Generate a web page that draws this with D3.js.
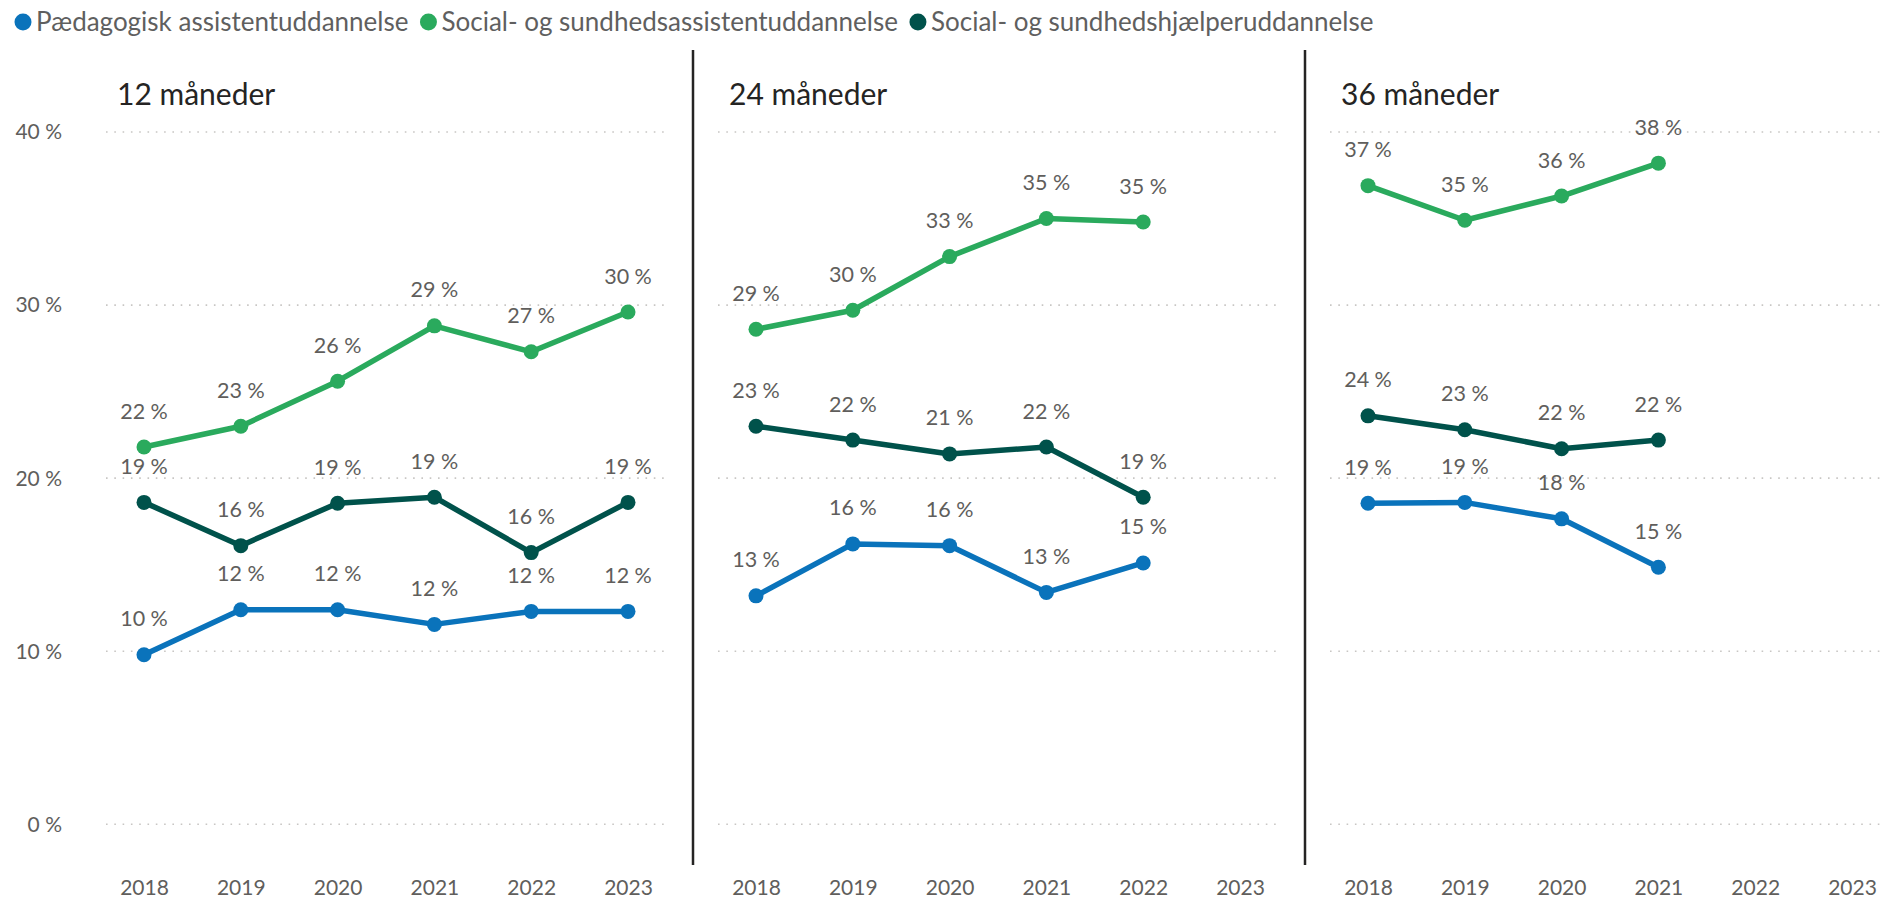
<!DOCTYPE html>
<html>
<head>
<meta charset="utf-8">
<script src="https://cdn.jsdelivr.net/npm/d3@7/dist/d3.min.js"></script>
<style>
  html, body { margin: 0; padding: 0; background: #fff; }
  svg { display: block; font-family: Lato, "Noto Sans", sans-serif; }
</style>
</head>
<body>
<svg id="chart" width="1880" height="899"></svg>
<script>
// Andel i beskæftigelse efter 12, 24 og 36 måneder, fordelt på uddannelse
const years = ["2018", "2019", "2020", "2021", "2022", "2023"];
const panelTitles = ["12 måneder", "24 måneder", "36 måneder"];
const seriesNames = [
  "Pædagogisk assistentuddannelse",
  "Social- og sundhedsassistentuddannelse",
  "Social- og sundhedshjælperuddannelse"
];
const seriesColors = ["#0A73BB", "#2AAA5D", "#00524B"];

// values per panel (12 / 24 / 36 måneder), in percent
const paedagogisk = [
  [9.8, 12.4, 12.4, 11.55, 12.3, 12.3],
  [13.2, 16.2, 16.1, 13.4, 15.1],
  [18.55, 18.6, 17.65, 14.85]
];
const sosuAssistent = [
  [21.8, 23.0, 25.6, 28.8, 27.3, 29.6],
  [28.6, 29.7, 32.8, 35.0, 34.8],
  [36.9, 34.9, 36.3, 38.2]
];
const sosuHjaelper = [
  [18.6, 16.1, 18.55, 18.9, 15.7, 18.6],
  [23.0, 22.2, 21.4, 21.8, 18.9],
  [23.6, 22.8, 21.7, 22.2]
];
const yTicks = [0, 10, 20, 30, 40];
const yTickLabels = ["0 %", "10 %", "20 %", "30 %", "40 %"];

const seriesData = [paedagogisk, sosuAssistent, sosuHjaelper];

const svg = d3.select("#chart");
const W = 1880;

const y = d3.scaleLinear().domain([0, 40]).range([824.3, 132]);
const panelStart = 144, panelStep = 612, xSpan = 484, gridPad = 38;

// legend
const legend = svg.append("g").attr("transform", "translate(0,22)");
let lx = 23;
seriesNames.forEach((name, i) => {
  legend.append("circle").attr("cx", lx).attr("cy", 0).attr("r", 8.5)
    .attr("fill", seriesColors[i]);
  const t = legend.append("text").attr("x", lx + 13).attr("y", 0)
    .attr("dy", "0.35em").attr("font-size", 26).attr("fill", "#5f5f5f")
    .text(name);
  lx += 13 + t.node().getComputedTextLength() + 20;
});

// panel dividers
[693, 1305].forEach(px => {
  svg.append("line").attr("x1", px).attr("x2", px).attr("y1", 50).attr("y2", 865)
    .attr("stroke", "#252423").attr("stroke-width", 2.5);
});

// y axis labels (first panel only)
const yAxis = svg.append("g");
yTicks.forEach((v, i) => {
  yAxis.append("text").attr("x", 62).attr("y", y(v)).attr("dy", "0.35em")
    .attr("text-anchor", "end").attr("font-size", 21).attr("fill", "#605E5C")
    .text(yTickLabels[i]);
});

panelTitles.forEach((title, p) => {
  const x0 = panelStart + p * panelStep;
  const x = d3.scalePoint().domain(years).range([x0, x0 + xSpan]);
  const g = svg.append("g");

  // dotted gridlines
  yTicks.forEach(v => {
    g.append("line")
      .attr("x1", x0 - gridPad).attr("x2", Math.min(W, x0 + xSpan + gridPad))
      .attr("y1", y(v)).attr("y2", y(v))
      .attr("stroke", "#c8c6c4").attr("stroke-width", 1.6)
      .attr("stroke-dasharray", "1.6 6.7");
  });

  // panel title
  g.append("text").attr("x", x0 - 27).attr("y", 105)
    .attr("font-size", 30).attr("fill", "#252423").text(title);

  // x axis
  const xAxis = d3.axisBottom(x).tickSize(0).tickPadding(0);
  const ax = g.append("g").attr("transform", "translate(0,880)").call(xAxis);
  ax.select(".domain").remove();
  ax.selectAll("text").attr("font-size", 21).attr("fill", "#605E5C")
    .attr("font-family", "Lato, 'Noto Sans', sans-serif").attr("dy", "0.71em");

  // series lines, markers and labels
  seriesData.forEach((s, si) => {
    const vals = s[p].map((v, i) => ({ year: years[i], v }));
    const line = d3.line().x(d => x(d.year)).y(d => y(d.v));
    g.append("path").datum(vals).attr("d", line).attr("fill", "none")
      .attr("stroke", seriesColors[si]).attr("stroke-width", 5.5)
      .attr("stroke-linejoin", "round");
    g.selectAll(null).data(vals).join("circle")
      .attr("cx", d => x(d.year)).attr("cy", d => y(d.v)).attr("r", 7.5)
      .attr("fill", seriesColors[si]);
    g.selectAll(null).data(vals).join("text")
      .attr("x", d => x(d.year)).attr("y", d => y(d.v) - 36).attr("dy", "0.35em")
      .attr("text-anchor", "middle").attr("font-size", 21.5).attr("fill", "#605E5C")
      .text(d => Math.round(d.v) + " %");
  });
});
</script>
</body>
</html>
